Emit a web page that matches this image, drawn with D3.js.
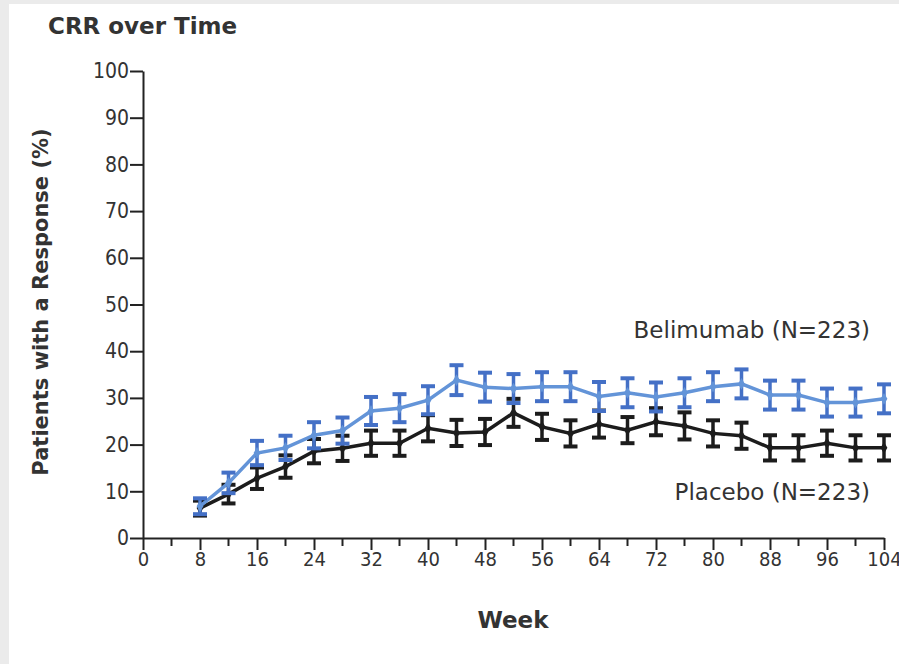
<!DOCTYPE html>
<html>
<head>
<meta charset="utf-8">
<script src="https://cdn.jsdelivr.net/npm/d3@7"></script>
<style>
  body { margin: 0; background: #ebebeb; }
  #app { width: 899px; height: 664px; position: relative; }
  text { font-family: "DejaVu Sans", sans-serif; fill: #333333; }
</style>
</head>
<body>
<div id="app"></div>
<script>
var weeks = [8, 12, 16, 20, 24, 28, 32, 36, 40, 44, 48, 52, 56, 60, 64, 68, 72, 76, 80, 84, 88, 92, 96, 100, 104];
var belimumab = [6.8, 11.8, 18.2, 19.3, 22, 23, 27.2, 27.8, 29.5, 33.8, 32.3, 32, 32.4, 32.4, 30.3, 31.1, 30.2, 31.1, 32.4, 33, 30.6, 30.6, 29, 29, 29.8];
var belimumabErr = [1.7, 2.2, 2.6, 2.6, 2.8, 2.8, 3, 3, 3, 3.2, 3.1, 3.1, 3.1, 3.1, 3.1, 3.1, 3.1, 3.1, 3.1, 3.1, 3.1, 3.1, 3, 3, 3.1];
var placebo = [6.4, 9.4, 12.8, 15.3, 18.6, 19.2, 20.3, 20.3, 23.5, 22.5, 22.7, 26.8, 23.8, 22.4, 24.4, 23.1, 24.9, 24, 22.4, 21.9, 19.3, 19.3, 20.3, 19.3, 19.3];
var placeboErr = [1.6, 2, 2.3, 2.4, 2.6, 2.7, 2.7, 2.7, 2.8, 2.8, 2.8, 3, 2.8, 2.8, 2.9, 2.8, 2.9, 2.9, 2.8, 2.8, 2.7, 2.7, 2.7, 2.7, 2.7];
var xTicks = [0, 8, 16, 24, 32, 40, 48, 56, 64, 72, 80, 88, 96, 104];
var yTicks = [0, 10, 20, 30, 40, 50, 60, 70, 80, 90, 100];

var width = 899, height = 664;

var svg = d3.select('#app')
    .append('svg')
    .attr('width', width)
    .attr('height', height);

// white panel, gray strip left and top
svg.append('rect')
    .attr('x', 9).attr('y', 4)
    .attr('width', width - 9).attr('height', height - 4)
    .attr('fill', '#ffffff');

var xScale = d3.scaleLinear().domain([0, 104]).range([143, 884]);
var yScale = d3.scaleLinear().domain([0, 100]).range([538, 71]);

// minor x ticks every 4 weeks
var minor = d3.range(4, 104, 8);
svg.append('g')
    .selectAll('line')
    .data(minor)
    .enter()
    .append('line')
    .attr('x1', d => xScale(d)).attr('x2', d => xScale(d))
    .attr('y1', yScale(0)).attr('y2', yScale(0) + 8)
    .attr('stroke', '#222').attr('stroke-width', 2);

var xAxis = d3.axisBottom(xScale).tickValues(xTicks).tickSize(12).tickSizeOuter(0).tickPadding(2);
var gx = svg.append('g')
    .attr('transform', 'translate(0,' + yScale(0) + ')')
    .call(xAxis);
gx.select('.domain').attr('stroke', '#222').attr('stroke-width', 2);
gx.selectAll('.tick line').attr('stroke', '#222').attr('stroke-width', 2);
gx.selectAll('.tick text').style('font-size', '20px').style('font-family', 'DejaVu Sans Condensed').attr('fill', '#333');

var yAxis = d3.axisLeft(yScale).tickValues(yTicks).tickSize(13).tickSizeOuter(0).tickPadding(1);
var gy = svg.append('g')
    .attr('transform', 'translate(' + xScale(0) + ',0)')
    .call(yAxis);
gy.select('.domain').attr('stroke', '#222').attr('stroke-width', 2);
gy.selectAll('.tick line').attr('stroke', '#222').attr('stroke-width', 2);
gy.selectAll('.tick text').style('font-size', '21px').style('font-family', 'DejaVu Sans Condensed').attr('fill', '#333');

function drawSeries(vals, errs, lineColor, barColor) {
    var g = svg.append('g');
    var line = d3.line()
        .x((d, i) => xScale(weeks[i]))
        .y(d => yScale(d));
    g.append('path')
        .datum(vals)
        .attr('d', line)
        .attr('fill', 'none')
        .attr('stroke', lineColor)
        .attr('stroke-width', 3.5);
    var bars = g.selectAll('g.err')
        .data(vals)
        .enter()
        .append('g')
        .attr('class', 'err');
    bars.append('line')
        .attr('x1', (d, i) => xScale(weeks[i])).attr('x2', (d, i) => xScale(weeks[i]))
        .attr('y1', (d, i) => yScale(d + errs[i])).attr('y2', (d, i) => yScale(d - errs[i]))
        .attr('stroke', barColor).attr('stroke-width', 3.5);
    [1, -1].forEach(function (s) {
        bars.append('line')
            .attr('x1', (d, i) => xScale(weeks[i]) - 7).attr('x2', (d, i) => xScale(weeks[i]) + 7)
            .attr('y1', (d, i) => yScale(d + s * errs[i])).attr('y2', (d, i) => yScale(d + s * errs[i]))
            .attr('stroke', barColor).attr('stroke-width', 4);
    });
    bars.append('path')
        .attr('transform', (d, i) => 'translate(' + xScale(weeks[i]) + ',' + yScale(d) + ')')
        .attr('d', d3.symbol().type(d3.symbolDiamond).size(40))
        .attr('fill', lineColor);
}

drawSeries(placebo, placeboErr, '#1c1c1c', '#1c1c1c');
drawSeries(belimumab, belimumabErr, '#6394d8', '#4470c6');

svg.append('text')
    .attr('x', 870).attr('y', 338)
    .attr('text-anchor', 'end')
    .style('font-size', '23px')
    .text('Belimumab (N=223)');
svg.append('text')
    .attr('x', 870).attr('y', 500)
    .attr('text-anchor', 'end')
    .style('font-size', '23px')
    .text('Placebo (N=223)');

svg.append('text')
    .attr('x', 48).attr('y', 34)
    .style('font-size', '23px')
    .style('font-weight', 'bold')
    .attr('fill', '#222')
    .text('CRR over Time');

svg.append('text')
    .attr('transform', 'translate(48,302) rotate(-90)')
    .attr('text-anchor', 'middle')
    .style('font-size', '21px')
    .style('font-weight', 'bold')
    .attr('fill', '#222')
    .text('Patients with a Response (%)');

svg.append('text')
    .attr('x', 513).attr('y', 628)
    .attr('text-anchor', 'middle')
    .style('font-size', '23px')
    .style('font-weight', 'bold')
    .attr('fill', '#222')
    .text('Week');
</script>
</body>
</html>
